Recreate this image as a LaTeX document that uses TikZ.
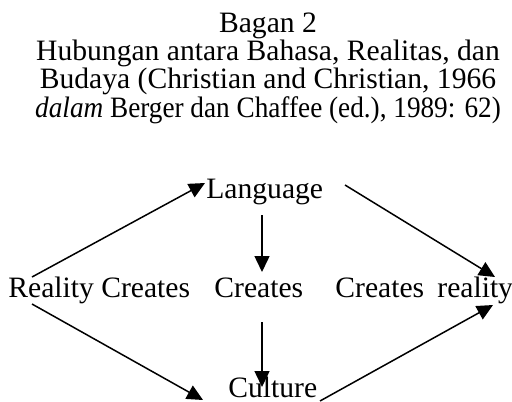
\documentclass[tikz,border=0pt]{standalone}
\usepackage{fontspec}
\setmainfont{Liberation Serif}
\usetikzlibrary{arrows.meta}
\tikzset{
  txt/.style={inner sep=0pt, anchor=base west, font=\fontsize{14.8pt}{14pt}\selectfont},
  ttl/.style={inner sep=0pt, anchor=base, font=\fontsize{14.8pt}{14pt}\selectfont},
  arr/.style={line width=0.75pt, -{Triangle[length=8pt,width=7.5pt]}}
}
\begin{document}
\begin{tikzpicture}[x=0.5pt,y=-0.5pt]
\useasboundingbox (0,0) rectangle (512,401);
% title
\node[ttl] (t1) at (268,33) {Bagan 2};
\node[ttl] (t2) at (268,61) {Hubungan antara Bahasa, Realitas, dan};
\node[ttl] (t3) at (268,89) {Budaya (Christian and Christian, 1966};
\node[ttl] (t4) at (268,117) {\scalebox{0.92}[1]{\textit{dalam} Berger dan Chaffee (ed.), 1989: 62)}};
% diagram texts
\node[txt] (lang) at (206,198) {Language};
\node[txt] (rc) at (8,297) {Reality Creates};
\node[txt] (cm) at (214,297) {Creates};
\node[txt] (cr) at (335,297) {Creates};
\node[txt] (rr) at (437,297) {reality};
\node[txt] (cult) at (228,397) {Culture};
% connector end points
\coordinate (rcA) at (32,277);
\coordinate (langL) at (205,183);
\coordinate (langR) at (345,185);
\coordinate (rrA) at (495,277);
\coordinate (langB) at (262,215);
\coordinate (cmT) at (262,272);
\coordinate (cmB) at (262,322);
\coordinate (cultT) at (262,387);
\coordinate (rcB) at (32,304);
\coordinate (cultL) at (203,400);
\coordinate (cultR) at (320,401);
\coordinate (rrB) at (493,305);
% connectors
\draw[arr] (rcA) -- (langL);
\draw[arr] (langR) -- (rrA);
\draw[arr] (langB) -- (cmT);
\draw[arr] (cmB) -- (cultT);
\draw[arr] (rcB) -- (cultL);
\draw[arr] (cultR) -- (rrB);
\end{tikzpicture}
\end{document}
